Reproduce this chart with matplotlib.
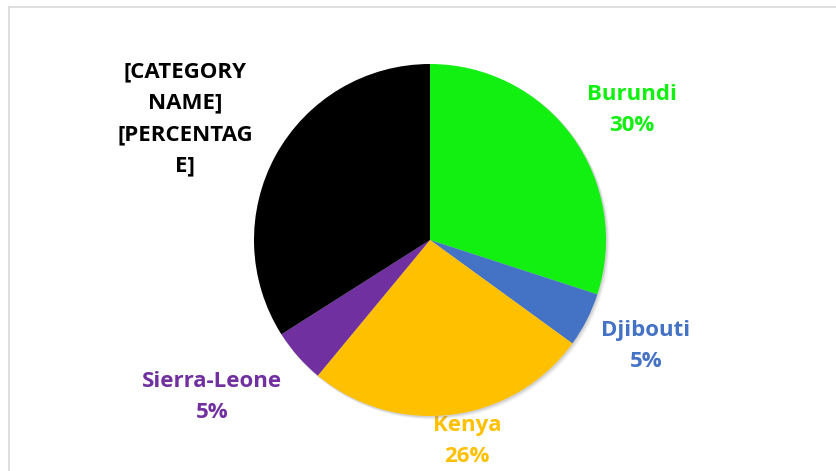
import matplotlib.pyplot as plt
from matplotlib.lines import Line2D
from matplotlib.patches import Circle

countries = ["Burundi", "Djibouti", "Kenya", "Sierra-Leone", "[CATEGORY NAME]"]
shares = [30, 5, 26, 5, 34]
label_texts = ["Burundi\n30%", "Djibouti\n5%", "Kenya\n26%", "Sierra-Leone\n5%",
               "[CATEGORY\nNAME]\n[PERCENTAG\nE]"]
colors = ["#12F012", "#4472C4", "#FFC000", "#7030A0", "#000000"]

# label anchor positions in pixels (x, y from top)
label_pos = [(632, 110), (646, 346), (467, 441), (212, 397), (185, 119)]

W, H = 836, 471
cx, cy, r = 430, H - 240, 176
fig = plt.figure(figsize=(W / 100, H / 100), dpi=100)
ax = fig.add_axes([0, 0, 1, 1])

# soft shadow behind the pie
for k, a in [(3, 0.08), (2, 0.12), (1, 0.18)]:
    ax.add_patch(Circle((cx + k, cy - k), r + 0.5, color="#808080", alpha=a, lw=0, zorder=1))

wedges, _ = ax.pie(shares, colors=colors, startangle=90, counterclock=False,
                   center=(cx, cy), radius=r, frame=True,
                   wedgeprops=dict(zorder=3, linewidth=0))
ax.set_xlim(0, W)
ax.set_ylim(0, H)
ax.set_aspect("equal")
ax.axis("off")

for txt, (x, y), c in zip(label_texts, label_pos, colors):
    ax.text(x, H - y, txt, ha="center", va="center", color=c, fontsize=16,
            fontweight="bold", family="Open Sans", linespacing=1.65, zorder=0)

# chart area border (top and left edges visible)
fig.add_artist(Line2D([9 / W, 1], [1 - 7 / H, 1 - 7 / H], color="#D9D9D9", lw=1.2))
fig.add_artist(Line2D([9 / W, 9 / W], [0, 1 - 7 / H], color="#D9D9D9", lw=1.2))

fig.savefig("out.png", dpi=100)
